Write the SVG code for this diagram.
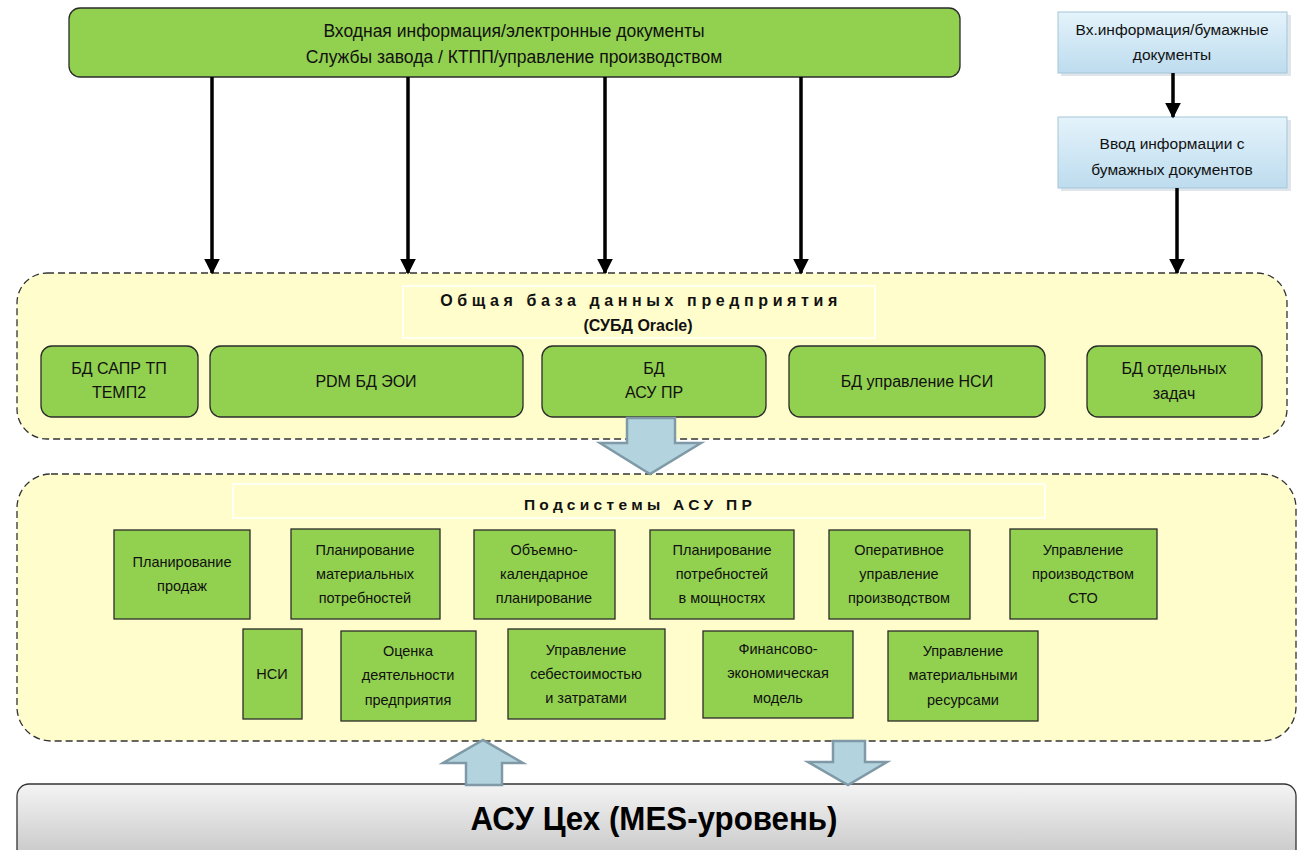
<svg xmlns="http://www.w3.org/2000/svg" width="1304" height="850" viewBox="0 0 1304 850">
<defs>
<linearGradient id="gBlue" x1="0" y1="0" x2="0" y2="1"><stop offset="0" stop-color="#e4f3fb"/><stop offset="1" stop-color="#bddcee"/></linearGradient>
<linearGradient id="gGray" x1="0" y1="0" x2="0" y2="1"><stop offset="0" stop-color="#f4f4f4"/><stop offset="1" stop-color="#c4c4c4"/></linearGradient>
<marker id="ah" viewBox="0 0 10 10" refX="9" refY="5" markerWidth="4.5" markerHeight="4.5" orient="auto" markerUnits="strokeWidth"><path d="M0,0 L10,5 L0,10 z" fill="#000"/></marker>
<style>
.t{font-family:"Liberation Sans",Arial,sans-serif;fill:#111;text-anchor:middle}
.s14{font-size:14.5px}
.s15{font-size:16px}
.sb{font-size:15.5px}
.grn{fill:#92d050;stroke:#2b2b2b;stroke-width:1.3}
.blu{fill:url(#gBlue);stroke:#a5c5d8;stroke-width:1}
.sec{fill:#fffdcc;stroke:#333;stroke-width:1.3;stroke-dasharray:7,4}
.ttl{fill:none;stroke:#ffffff;stroke-width:1.5}
.ln{stroke:#000;stroke-width:3.5;fill:none;marker-end:url(#ah)}
.blk{fill:#b3d3df;stroke:#7f9aa6;stroke-width:2.5}
</style>
</defs>
<rect width="1304" height="850" fill="#fff"/>

<g id="sec1"><rect class="sec" x="17" y="273" width="1270" height="166" rx="30"/><rect class="ttl" x="403" y="286" width="472" height="52"/>
<text class="t" x="641" y="306" font-size="16" font-weight="bold" letter-spacing="4.6">Общая база данных предприятия</text>
<text class="t" x="638" y="331" font-size="16" font-weight="bold">(СУБД Oracle)</text></g>

<g id="sec2"><rect class="sec" x="17" y="474" width="1279" height="267" rx="34"/><rect class="ttl" x="233" y="484" width="812" height="34"/>
<text class="t" x="640" y="510" font-size="15.5" font-weight="bold" letter-spacing="4.3">Подсистемы АСУ ПР</text></g>

<g id="top"><rect class="grn" x="69" y="8" width="891" height="69" rx="11"/>
<text class="t" x="514" y="37" font-size="17.5">Входная информация/электронные документы</text>
<text class="t" x="514" y="63" font-size="17.5">Службы завода / КТПП/управление производством</text></g>

<g id="paper1"><rect x="1061" y="15" width="230" height="61" fill="#c9d6de" opacity="0.6"/><rect class="blu" x="1058" y="12" width="229" height="61"/>
<text class="t sb" x="1172" y="35">Вх.информация/бумажные</text><text class="t sb" x="1172" y="60">документы</text></g>
<g id="paper2"><rect x="1061" y="120" width="230" height="71" fill="#c9d6de" opacity="0.6"/><rect class="blu" x="1058" y="117" width="229" height="71"/>
<text class="t sb" x="1172" y="149">Ввод информации  с</text><text class="t sb" x="1172" y="175">бумажных документов</text></g>

<g id="db1"><rect class="grn" x="41" y="346" width="157" height="71" rx="11"/><text class="t s15" x="119" y="374">БД САПР ТП</text><text class="t s15" x="119" y="398">ТЕМП2</text></g>
<g id="db2"><rect class="grn" x="210" y="346" width="313" height="71" rx="11"/><text class="t s15" x="366" y="387">PDM БД ЭОИ</text></g>
<g id="db3"><rect class="grn" x="542" y="346" width="224" height="71" rx="11"/><text class="t s15" x="654" y="374">БД</text><text class="t s15" x="654" y="398">АСУ ПР</text></g>
<g id="db4"><rect class="grn" x="789" y="346" width="256" height="71" rx="11"/><text class="t s15" x="917" y="387">БД управление НСИ</text></g>
<g id="db5"><rect class="grn" x="1087" y="346" width="175" height="71" rx="11"/><text class="t s15" x="1174" y="374">БД отдельных</text><text class="t s15" x="1174" y="399">задач</text></g>

<g id="p1"><rect class="grn" x="114" y="530" width="136" height="89"/><text class="t s14" x="182" y="567">Планирование</text><text class="t s14" x="182" y="591">продаж</text></g>
<g id="p2"><rect class="grn" x="291" y="529" width="149" height="90"/><text class="t s14" x="365" y="555">Планирование</text><text class="t s14" x="365" y="579">материальных</text><text class="t s14" x="365" y="603">потребностей</text></g>
<g id="p3"><rect class="grn" x="474" y="530" width="141" height="89"/><text class="t s14" x="544" y="555">Объемно-</text><text class="t s14" x="544" y="579">календарное</text><text class="t s14" x="544" y="603">планирование</text></g>
<g id="p4"><rect class="grn" x="650" y="530" width="144" height="89"/><text class="t s14" x="722" y="555">Планирование</text><text class="t s14" x="722" y="579">потребностей</text><text class="t s14" x="722" y="603">в мощностях</text></g>
<g id="p5"><rect class="grn" x="829" y="530" width="141" height="89"/><text class="t s14" x="899" y="555">Оперативное</text><text class="t s14" x="899" y="579">управление</text><text class="t s14" x="899" y="603">производством</text></g>
<g id="p6"><rect class="grn" x="1010" y="529" width="147" height="90"/><text class="t s14" x="1083" y="555">Управление</text><text class="t s14" x="1083" y="579">производством</text><text class="t s14" x="1083" y="603">СТО</text></g>

<g id="q1"><rect class="grn" x="243" y="629" width="59" height="90"/><text class="t s14" x="272" y="679">НСИ</text></g>
<g id="q2"><rect class="grn" x="341" y="631" width="135" height="90"/><text class="t s14" x="408" y="656">Оценка</text><text class="t s14" x="408" y="680">деятельности</text><text class="t s14" x="408" y="705">предприятия</text></g>
<g id="q3"><rect class="grn" x="508" y="629" width="157" height="90"/><text class="t s14" x="586" y="655">Управление</text><text class="t s14" x="586" y="679">себестоимостью</text><text class="t s14" x="586" y="703">и затратами</text></g>
<g id="q4"><rect class="grn" x="703" y="631" width="150" height="87"/><text class="t s14" x="778" y="654">Финансово-</text><text class="t s14" x="778" y="678">экономическая</text><text class="t s14" x="778" y="703">модель</text></g>
<g id="q5"><rect class="grn" x="888" y="631" width="150" height="90"/><text class="t s14" x="963" y="656">Управление</text><text class="t s14" x="963" y="680">материальными</text><text class="t s14" x="963" y="705">ресурсами</text></g>

<g id="mes"><rect x="17" y="784" width="1279" height="80" rx="12" fill="url(#gGray)" stroke="#333" stroke-width="1.3"/>
<text x="654" y="830" font-family="'Liberation Sans',Arial,sans-serif" font-size="33" font-weight="bold" text-anchor="middle" fill="#000" textLength="367" lengthAdjust="spacingAndGlyphs">АСУ Цех (MES-уровень)</text></g>

<g id="connectors">
<line class="ln" x1="212" y1="77" x2="212" y2="273"/>
<line class="ln" x1="408" y1="77" x2="408" y2="273"/>
<line class="ln" x1="605" y1="77" x2="605" y2="273"/>
<line class="ln" x1="801" y1="77" x2="801" y2="273"/>
<line class="ln" x1="1173" y1="73" x2="1173" y2="117"/>
<line class="ln" x1="1177" y1="188" x2="1177" y2="273"/>
<path class="blk" d="M627,418 L675,418 L675,443 L701,443 L650,474 L600,443 L627,443 Z"/>
<path class="blk" d="M466,785 L502,785 L502,763 L523,763 L483,740 L443,763 L466,763 Z"/>
<path class="blk" d="M833,741 L865,741 L865,762 L887,762 L848,785 L808,762 L833,762 Z"/>
</g>
</svg>
